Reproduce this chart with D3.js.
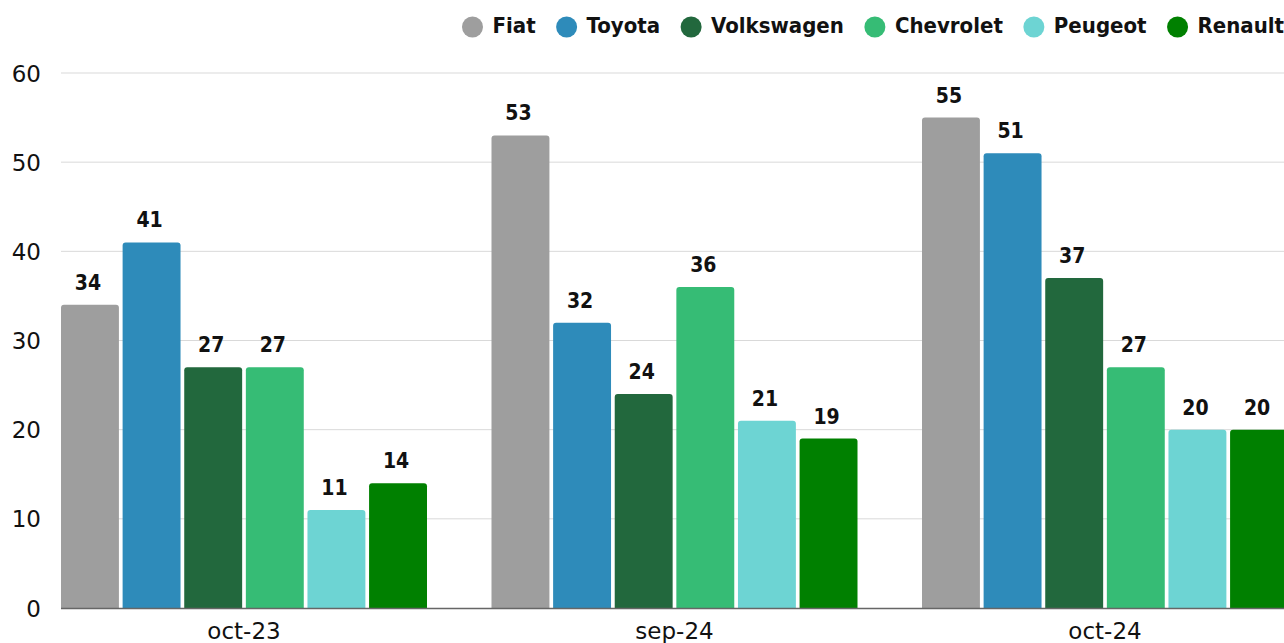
<!DOCTYPE html>
<html>
<head>
<meta charset="utf-8">
<script src="https://cdn.jsdelivr.net/npm/d3@7"></script>
<style>
  body { margin: 0; background: #fff; }
  text { font-family: "DejaVu Sans", Verdana, sans-serif; }
  .bold { font-family: "DejaVu Sans Condensed", "DejaVu Sans", sans-serif; font-stretch: condensed; font-weight: bold; }
</style>
</head>
<body>
<div id="chart"></div>
<script>
// data ------------------------------------------------------------
const months = ["oct-23", "sep-24", "oct-24"];
const brands = ["Fiat", "Toyota", "Volkswagen", "Chevrolet", "Peugeot", "Renault"];
const colors = ["#9e9e9e", "#2e8bba", "#22683d", "#36bc75", "#6dd4d3", "#008000"];
const sales = [
  [34, 41, 27, 27, 11, 14],   // oct-23
  [53, 32, 24, 36, 21, 19],   // sep-24
  [55, 51, 37, 27, 20, 20]    // oct-24
];
const yTicks = [0, 10, 20, 30, 40, 50, 60];

// svg -------------------------------------------------------------
const W = 1284, H = 643;
const svg = d3.select("#chart").append("svg").attr("width", W).attr("height", H);

const plotLeft = 61, plotBottom = 608, plotTop = 73;
const x0 = d3.scaleBand().domain(months).range([plotLeft, plotLeft + 3 * 430.5]).padding(0);
const x1 = d3.scaleBand().domain(brands).range([0, 366]).paddingInner(0.06).paddingOuter(0);
const y = d3.scaleLinear().domain([0, 60]).range([plotBottom, plotTop]);
const color = d3.scaleOrdinal().domain(brands).range(colors);

// grid
svg.append("g")
  .selectAll("line")
  .data(yTicks.filter(d => d > 0))
  .join("line")
  .attr("x1", plotLeft).attr("x2", W)
  .attr("y1", d => y(d)).attr("y2", d => y(d))
  .attr("stroke", "#d9d9d9")
  .attr("stroke-width", 1);

// y labels
svg.append("g")
  .selectAll("text")
  .data(yTicks)
  .join("text")
  .attr("x", 41)
  .attr("y", d => y(d) + 8.5)
  .attr("text-anchor", "end")
  .style("font-size", "23px")
  .attr("fill", "#111")
  .text(d => d);

// bars
function topRounded(x, yy, w, h, r) {
  r = Math.min(r, h);
  return `M${x},${yy + h}V${yy + r}Q${x},${yy} ${x + r},${yy}H${x + w - r}Q${x + w},${yy} ${x + w},${yy + r}V${yy + h}Z`;
}

const groups = svg.append("g")
  .selectAll("g")
  .data(months)
  .join("g")
  .attr("transform", d => `translate(${x0(d)},0)`);

groups.selectAll("path")
  .data((m, i) => brands.map((b, j) => ({ brand: b, value: sales[i][j] })))
  .join("path")
  .attr("d", d => topRounded(x1(d.brand), y(d.value), x1.bandwidth(), plotBottom - y(d.value), 3))
  .attr("fill", d => color(d.brand));

groups.selectAll("text")
  .data((m, i) => brands.map((b, j) => ({ brand: b, value: sales[i][j] })))
  .join("text")
  .attr("class", "bold")
  .attr("x", d => x1(d.brand) + x1.bandwidth() / 2 - 2)
  .attr("y", d => y(d.value) - 15)
  .attr("text-anchor", "middle")
  .style("font-size", "21px")
  .attr("fill", "#111")
  .text(d => d.value);

// baseline
svg.append("line")
  .attr("x1", plotLeft).attr("x2", W)
  .attr("y1", plotBottom + 0.5).attr("y2", plotBottom + 0.5)
  .attr("stroke", "#666")
  .attr("stroke-width", 1.5);

// x labels
svg.append("g")
  .selectAll("text")
  .data(months)
  .join("text")
  .attr("x", d => x0(d) + 183)
  .attr("y", 639)
  .attr("text-anchor", "middle")
  .style("font-size", "23px")
  .attr("fill", "#111")
  .text(d => d);

// legend (laid out from the right edge)
const legend = svg.append("g");
const items = legend.selectAll("g")
  .data(brands)
  .join("g");

items.append("circle")
  .attr("r", 10.5)
  .attr("cy", 27)
  .attr("fill", d => color(d));

items.append("text")
  .attr("class", "bold")
  .attr("x", 20)
  .attr("y", 33)
  .style("font-size", "22px")
  .attr("fill", "#111")
  .text(d => d);

let cursor = 1284;
const nodes = items.nodes().reverse();
nodes.forEach(n => {
  const tw = d3.select(n).select("text").node().getComputedTextLength();
  const cx = cursor - tw - 20;
  d3.select(n).attr("transform", `translate(${cx},0)`);
  cursor = cx - 31;
});
</script>
</body>
</html>
